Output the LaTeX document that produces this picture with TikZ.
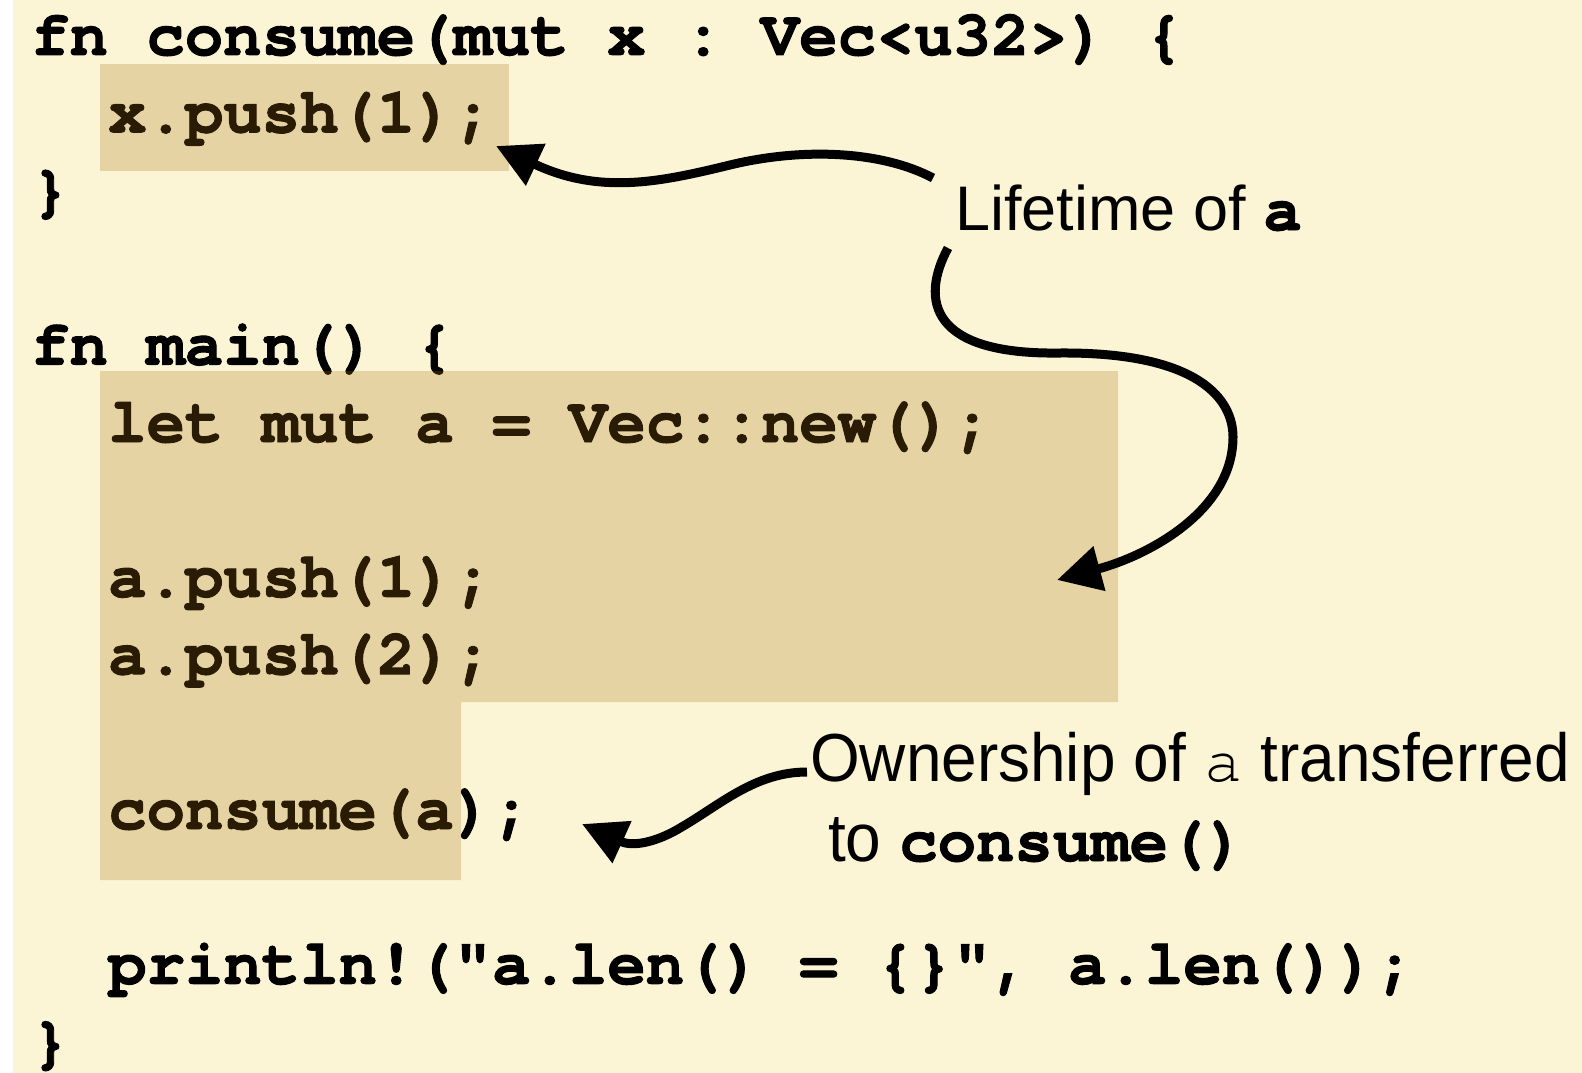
\documentclass[tikz,border=0pt]{standalone}
\usepackage{fontspec}
\setmainfont{Liberation Sans}
\setmonofont{texgyrecursor}[Extension=.otf, UprightFont=*-regular, BoldFont=*-bold, BoldFeatures={FakeBold=1.5}]
\newfontfamily\narrowsans{Liberation Sans}[FakeStretch=0.94]
\usetikzlibrary{arrows.meta}

\definecolor{paper}{RGB}{252,245,213}
\definecolor{boxtan}{RGB}{168,112,16}
\newcommand{\cd}[1]{{\ttfamily\bfseries\fontsize{64}{77.4}\selectfont #1}}
\tikzset{
  codeline/.style={anchor=base west, inner sep=0pt, font=\ttfamily\bfseries\fontsize{64}{77.4}\selectfont},
  note/.style={anchor=base west, inner sep=0pt, font=\fontsize{63}{70}\selectfont},
  lifespan/.style={fill=boxtan, fill opacity=0.25},
  pointer/.style={line width=9pt, -{Triangle[length=44pt,width=44pt]}}
}

\begin{document}
\begin{tikzpicture}[x=1pt, y=-1pt]
  \useasboundingbox (0,0) rectangle (1582,1073);
  \fill[white] (0,0) rectangle (1582,1073);
  \fill[paper] (13,0) rectangle (1582,1073);

  \node[codeline] (consumehead) at (31,55) {fn consume(mut x : Vec<u32>) \{};
  \node[codeline] (pushx) at (108,132.4) {x.push(1);};
  \node[codeline] (consumeend) at (31,209.8) {\}};
  \node[codeline] (mainhead) at (31,364.6) {fn main() \{};
  \node[codeline] (leta) at (108,442) {let mut a = Vec::new();};
  \node[codeline] (pushone) at (108,596.8) {a.push(1);};
  \node[codeline] (pushtwo) at (108,674.2) {a.push(2);};
  \node[codeline] (callconsume) at (108,829) {consume(a);};
  \node[codeline] (printlen) at (108,983.8) {println!("a.len() = \{\}", a.len());};
  \node[codeline] (mainend) at (31,1061.2) {\}};

  \fill[lifespan] (100,64) rectangle (509,171);
  \fill[lifespan] (100,371) -- (1118,371) -- (1118,702) -- (461,702) -- (461,880) -- (100,880) -- cycle;

  \node[note] (lifetime) at (955,230) {Lifetime of \cd{a}};
  \node[note, align=left, font=\narrowsans\fontsize{68}{80}\selectfont] (owner) at (810,861)
    {Ownership of {\ttfamily\fontsize{64}{80}\selectfont a} transferred\\\hspace*{18pt}to \cd{consume()}};

  \coordinate (ltop) at (933,178);
  \coordinate (lbot) at (948,248);
  \coordinate (otail) at (807,772);
  \coordinate (xtip) at (496,146);
  \coordinate (atip) at (1057,580);
  \coordinate (ctip) at (582,824);

  \draw[pointer] (ltop) .. controls (880,150) and (800,148) .. (730,165)
    .. controls (660,182) and (600,195) .. (xtip);
  \draw[pointer] (lbot) .. controls (920,300) and (930,355) .. (1060,353)
    .. controls (1200,352) and (1233,400) .. (1233,437)
    .. controls (1233,510) and (1150,555) .. (atip);
  \draw[pointer] (otail) .. controls (755,772) and (720,805) .. (680,828)
    .. controls (660,840) and (635,848) .. (ctip);
\end{tikzpicture}
\end{document}
